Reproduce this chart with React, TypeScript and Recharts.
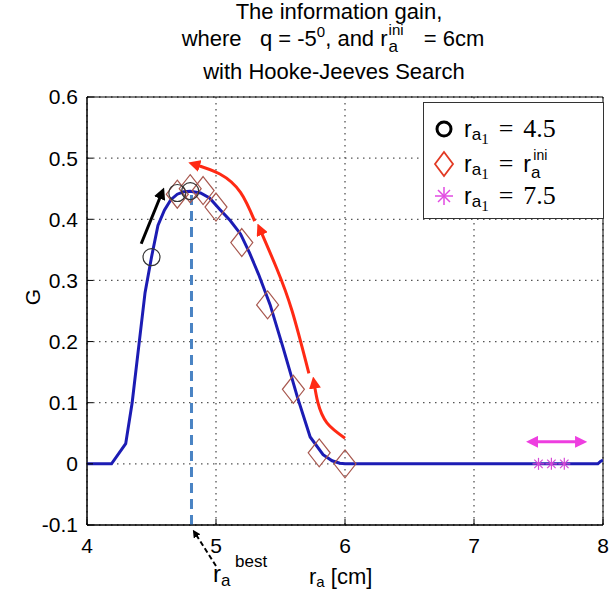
import React from 'react';
import {
  ComposedChart, Line, Scatter, XAxis, YAxis, CartesianGrid, ReferenceArea, ReferenceLine,
} from 'recharts';

// blue G(r_a) curve
const curveX = [4.0, 4.19, 4.3, 4.35, 4.4, 4.45, 4.5, 4.55, 4.6, 4.65, 4.7, 4.75, 4.8, 4.88, 4.95, 5.03, 5.11, 5.19, 5.26, 5.33, 5.42, 5.52, 5.63, 5.73, 5.83, 5.9, 5.96, 6.0, 7.0, 7.96, 7.98, 8.0];
const curveG = [0, 0, 0.033, 0.1, 0.19, 0.28, 0.338, 0.39, 0.415, 0.432, 0.441, 0.445, 0.446, 0.443, 0.435, 0.416, 0.398, 0.376, 0.345, 0.31, 0.26, 0.19, 0.11, 0.044, 0.015, 0.005, 0.001, 0, 0, 0, 0.004, 0.006];

// search iterates
const circleX = [4.5, 4.7, 4.8];
const circleG = [0.338, 0.443, 0.446];
const diamondX = [4.7, 4.8, 4.9, 5.0, 5.2, 5.4, 5.6, 5.8, 6.0];
const diamondG = [0.441, 0.45, 0.447, 0.42, 0.362, 0.26, 0.122, 0.018, 0.0];
const starX = [7.5, 7.6, 7.7];
const starG = [0, 0, 0];

const xTicks = [4, 5, 6, 7, 8];
const yTicks = [-0.1, 0, 0.1, 0.2, 0.3, 0.4, 0.5, 0.6];
const rBest = 4.81;
const peakG = 0.445;

// annotation arrows (data units)
const redArrow1 = [[6.0, 0.042], [5.86, 0.067], [5.79, 0.1], [5.76, 0.133]];
const redArrow2 = [[5.72, 0.148], [5.59, 0.25], [5.47, 0.32], [5.34, 0.384]];
const redArrow3 = [[5.3, 0.397], [5.19, 0.444], [5.03, 0.474], [4.83, 0.49]];
const blackArrow = [[4.42, 0.36], [4.58, 0.443]];
const pinkArrow = [[7.45, 0.036], [7.83, 0.036]];

const zip = (xs: number[], ys: number[]) => xs.map((x, i) => ({ x, y: ys[i] }));
const pts = (a: number[][]) => a.map(([x, y]) => ({ x, y }));

const curve = zip(curveX, curveG);
const circles = zip(circleX, circleG);
const diamonds = zip(diamondX, diamondG);
const stars = zip(starX, starG);

const SANS = '"Liberation Sans", Arial, sans-serif';
const SERIF = '"Liberation Serif", "DejaVu Serif", serif';

const Circle = (p: any) => (
  <circle cx={p.cx} cy={p.cy} r={8.5} fill="none" stroke="#333" strokeWidth={1.2} />
);
const Diamond = (p: any) => (
  <polygon
    points={`${p.cx},${p.cy - 14} ${p.cx + 11},${p.cy} ${p.cx},${p.cy + 14} ${p.cx - 11},${p.cy}`}
    fill="none" stroke="#a8584f" strokeWidth={1.2}
  />
);
const Star = (p: any) => {
  const r = 6;
  const d = r * 0.7;
  return (
    <g stroke="#d64ad6" strokeWidth={1.2}>
      <line x1={p.cx} y1={p.cy - r} x2={p.cx} y2={p.cy + r} />
      <line x1={p.cx - r} y1={p.cy} x2={p.cx + r} y2={p.cy} />
      <line x1={p.cx - d} y1={p.cy - d} x2={p.cx + d} y2={p.cy + d} />
      <line x1={p.cx - d} y1={p.cy + d} x2={p.cx + d} y2={p.cy - d} />
    </g>
  );
};

const Markers = () => (
  <svg width={0} height={0} style={{ position: 'absolute' }}>
    <defs>
      <marker id="hRed" viewBox="0 0 10 10" refX="5" refY="5" markerWidth="4" markerHeight="4" orient="auto-start-reverse">
        <path d="M0,0 L10,5 L0,10 z" fill="#ff2a14" />
      </marker>
      <marker id="hBlack" viewBox="0 0 10 10" refX="5" refY="5" markerWidth="4" markerHeight="4" orient="auto-start-reverse">
        <path d="M0,0 L10,5 L0,10 z" fill="#000" />
      </marker>
      <marker id="hPink" viewBox="0 0 10 10" refX="5" refY="5" markerWidth="4" markerHeight="4" orient="auto-start-reverse">
        <path d="M0,0 L10,5 L0,10 z" fill="#ee3ee0" />
      </marker>
    </defs>
  </svg>
);

const LegendBox = () => {
  const row = (icon: React.ReactNode, rhs: React.ReactNode, top: number) => (
    <div style={{ position: 'absolute', left: 8, top, height: 30, display: 'flex', alignItems: 'center', whiteSpace: 'nowrap' }}>
      <svg width={24} height={30}>{icon}</svg>
      <span style={{ marginLeft: 8, fontFamily: SANS, fontSize: 23 }}>r</span>
      <span style={{ fontFamily: SANS, fontSize: 17, position: 'relative', top: 6 }}>a</span>
      <span style={{ fontFamily: SERIF, fontSize: 15, position: 'relative', top: 10 }}>1</span>
      <span style={{ fontFamily: SERIF, fontSize: 26, marginLeft: 10 }}>=</span>
      <span style={{ marginLeft: 10 }}>{rhs}</span>
    </div>
  );
  return (
    <div style={{ position: 'absolute', left: 423, top: 102, width: 179, height: 115, border: '1px solid #333', background: '#fff' }}>
      {row(<circle cx={12} cy={15} r={7} fill="none" stroke="#000" strokeWidth={3} />,
        <span style={{ fontFamily: SERIF, fontSize: 26 }}>4.5</span>, 11)}
      {row(<polygon points="12,3 21,15 12,27 3,15" fill="none" stroke="#e23a24" strokeWidth={1.8} />,
        <span style={{ position: 'relative' }}>
          <span style={{ fontFamily: SANS, fontSize: 23 }}>r</span>
          <span style={{ fontFamily: SANS, fontSize: 17, position: 'relative', top: 6 }}>a</span>
          <span style={{ fontFamily: SANS, fontSize: 14, position: 'absolute', left: 10, top: -11 }}>ini</span>
        </span>, 46)}
      {row(<g stroke="#e24ae2" strokeWidth={1.5}>
        <line x1={12} y1={6} x2={12} y2={24} /><line x1={3} y1={15} x2={21} y2={15} />
        <line x1={6} y1={9} x2={18} y2={21} /><line x1={6} y1={21} x2={18} y2={9} />
      </g>, <span style={{ fontFamily: SERIF, fontSize: 26 }}>7.5</span>, 78)}
    </div>
  );
};

export default function App() {
  const tick = { fill: '#000', fontSize: 21, fontFamily: SANS };
  return (
    <div style={{ position: 'absolute', left: 0, top: 0, width: 609, height: 590, background: '#fff', fontFamily: SANS, color: '#000' }}>
      <Markers />
      <div style={{ position: 'absolute', left: 0, width: 678, top: 0, textAlign: 'center', fontSize: 22, lineHeight: '24px' }}>
        The information gain,
      </div>
      <div style={{ position: 'absolute', left: 0, width: 666, top: 27, textAlign: 'center', fontSize: 22, lineHeight: '24px', whiteSpace: 'pre' }}>
        {'where   q = -5'}
        <span style={{ fontSize: 15, position: 'relative', top: -9, lineHeight: 0 }}>0</span>
        {', and r'}
        <span style={{ position: 'relative', display: 'inline-block', width: 24, height: 0 }}>
          <span style={{ position: 'absolute', left: 1, top: -9, fontSize: 17, lineHeight: '20px' }}>a</span>
          <span style={{ position: 'absolute', left: 1, top: -25, fontSize: 15, lineHeight: '18px' }}>ini</span>
        </span>
        {'  = 6cm'}
      </div>
      <div style={{ position: 'absolute', left: 0, width: 668, top: 60, textAlign: 'center', fontSize: 22, lineHeight: '24px' }}>
        with Hooke-Jeeves Search
      </div>

      <ComposedChart width={609} height={590} margin={{ top: 97, right: 6, bottom: 25, left: 27 }}>
        <CartesianGrid stroke="#555" strokeDasharray="1.5 4.5" strokeWidth={1.3} />
        <XAxis
          dataKey="x" type="number" domain={[4, 8]} ticks={xTicks} allowDataOverflow
          height={40} tick={tick} tickSize={-6} tickMargin={19}
          axisLine={{ stroke: '#000' }} tickLine={{ stroke: '#000' }}
        />
        <XAxis
          xAxisId="top" orientation="top" dataKey="x" type="number" domain={[4, 8]} ticks={xTicks}
          allowDataOverflow height={0} tickSize={-6} tickFormatter={() => ''}
          axisLine={{ stroke: '#000' }} tickLine={{ stroke: '#000' }}
        />
        <YAxis
          type="number" domain={[-0.1, 0.6]} ticks={yTicks} allowDataOverflow
          width={60} tick={tick} tickSize={-6} tickMargin={15}
          axisLine={{ stroke: '#000' }} tickLine={{ stroke: '#000' }}
        />
        <YAxis
          yAxisId="right" orientation="right" type="number" domain={[-0.1, 0.6]} ticks={yTicks}
          allowDataOverflow width={0} tickSize={-6} tickFormatter={() => ''}
          axisLine={{ stroke: '#000' }} tickLine={{ stroke: '#000' }}
        />
        <ReferenceArea x1={4} x2={8} y1={-0.1} y2={0.6} fill="none" stroke="#000" strokeWidth={1} />
        <ReferenceLine
          segment={[{ x: rBest, y: -0.1 }, { x: rBest, y: peakG }]}
          stroke="#4a84c4" strokeWidth={3} strokeDasharray="10 6"
        />
        <Scatter data={diamonds} dataKey="y" shape={Diamond} isAnimationActive={false} />
        <Line data={curve} dataKey="y" type="linear" stroke="#1c1cb4" strokeWidth={3} dot={false} isAnimationActive={false} />
        <Scatter data={circles} dataKey="y" shape={Circle} isAnimationActive={false} />
        <Scatter data={stars} dataKey="y" shape={Star} isAnimationActive={false} />
        <Line data={pts(redArrow1)} dataKey="y" type="natural" stroke="#ff2a14" strokeWidth={3} dot={false} markerEnd="url(#hRed)" isAnimationActive={false} />
        <Line data={pts(redArrow2)} dataKey="y" type="natural" stroke="#ff2a14" strokeWidth={3} dot={false} markerEnd="url(#hRed)" isAnimationActive={false} />
        <Line data={pts(redArrow3)} dataKey="y" type="natural" stroke="#ff2a14" strokeWidth={3} dot={false} markerEnd="url(#hRed)" isAnimationActive={false} />
        <Line data={pts(blackArrow)} dataKey="y" type="linear" stroke="#000" strokeWidth={3} dot={false} markerEnd="url(#hBlack)" isAnimationActive={false} />
        <Line data={pts(pinkArrow)} dataKey="y" type="linear" stroke="#ee3ee0" strokeWidth={3} dot={false} markerStart="url(#hPink)" markerEnd="url(#hPink)" isAnimationActive={false} />
      </ComposedChart>

      <LegendBox />

      <svg width={609} height={590} style={{ position: 'absolute', left: 0, top: 0, pointerEvents: 'none' }}>
        <text x={32} y={297} fontSize={21} fontFamily={SANS} textAnchor="middle" dominantBaseline="central" transform="rotate(-90 32 297)">G</text>
        <text x={309} y={584} fontFamily={SANS}>
          <tspan fontSize={22}>r</tspan>
          <tspan fontSize={15} dy={3}>a</tspan>
          <tspan fontSize={22} dy={-3}> [cm]</tspan>
        </text>
        <line x1={216} y1={566} x2={195} y2={533} stroke="#000" strokeWidth={2} strokeDasharray="5 3" markerEnd="url(#hBlack)" />
        <text x={213} y={582} fontFamily={SANS}>
          <tspan fontSize={24}>r</tspan>
          <tspan fontSize={17} dy={4}>a</tspan>
        </text>
        <text x={235} y={567} fontFamily={SANS} fontSize={17}>best</text>
      </svg>
    </div>
  );
}
